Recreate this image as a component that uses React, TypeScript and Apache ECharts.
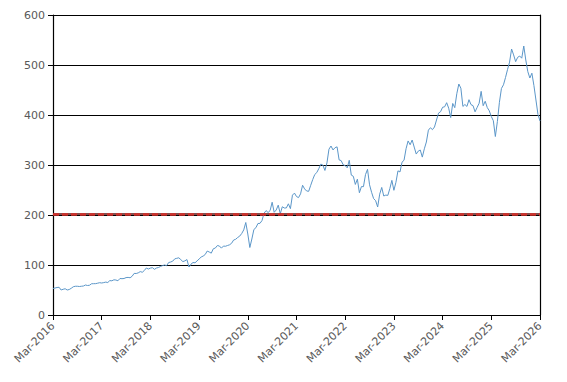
import React, { useEffect, useRef } from "react";
import * as echarts from "echarts";

// Semi-monthly closing prices (1st and 15th of each month)
const prices2016 = [53, 54, 55, 55.5, 50, 51.5, 52.5, 50, 51, 53.5, 56.5, 57.5, 57.5, 57, 57.5, 58, 60, 59, 59.5, 62.5]; // Mar–Dec
const prices2017 = [62.6, 62.7, 63.6, 64.6, 64, 64.8, 65.8, 65, 68.8, 68.4, 70.4, 70, 68.5, 73, 72.6, 73, 74.8, 75.2, 74.5, 77.5, 83.2, 83, 84.3, 86.8];
const prices2018 = [85.5, 89, 94, 92, 93.8, 94.6, 91.3, 94, 95, 97.2, 98.8, 100.1, 98.6, 105, 106, 107.7, 112.3, 113.4, 114.4, 110.7, 106.8, 108.3, 110.9, 96];
const prices2019 = [101.6, 105, 104.4, 108.2, 112, 115.9, 117.9, 121, 127.9, 126, 123.7, 132.5, 133.9, 138.9, 138, 133.7, 137.9, 137.5, 139, 140.4, 143.4, 149.9, 151.4, 155];
const prices2020 = [157.7, 163, 170.2, 185, 162, 135, 152, 171, 174.6, 183, 183.3, 188.9, 203.5, 208.8, 205, 208.9, 225.5, 205.4, 210, 219.7, 202.5, 216.5, 214, 214.1];
const prices2021 = [222.4, 212.7, 239.7, 243.8, 236.9, 234.8, 242.3, 259.5, 252.2, 248, 247.4, 259.4, 270.9, 281, 284.9, 292.8, 301.8, 299.8, 289.1, 304.2, 331.6, 338, 330.1, 334.7];
const prices2022 = [336.3, 310.2, 308.8, 300.5, 298.8, 294.4, 309.4, 279.8, 277.5, 261.1, 271.6, 244.5, 256.8, 256.7, 280.7, 291.3, 260.4, 245.4, 232.9, 228.6, 216, 241.7, 255.1, 238];
const prices2023 = [239.8, 239.2, 252.8, 269.3, 249.4, 265.4, 288.3, 286.1, 305.6, 309.5, 332.6, 348.1, 340.5, 350, 335.9, 321.9, 327.8, 330, 315.8, 332.4, 346, 369.7, 374.5, 370.7];
const prices2024 = [376, 390, 403.8, 406.6, 415.5, 416.4, 424.6, 413.6, 394.9, 423.1, 414.7, 442.6, 462, 453.6, 417.1, 421, 417.1, 430.6, 420.7, 418.7, 406.4, 415, 423.5, 447.3];
const prices2025 = [418.6, 427.5, 415, 408.4, 397, 388.6, 357, 387, 425.4, 453.1, 460.4, 474.9, 491, 505.8, 532, 520.2, 506.7, 515.4, 517.9, 513.6, 538, 510, 486.7, 474];
const prices2026 = [483.6, 459, 430, 401, 388]; // Jan 1 – Mar 1

const allPrices = [
  ...prices2016, ...prices2017, ...prices2018, ...prices2019, ...prices2020,
  ...prices2021, ...prices2022, ...prices2023, ...prices2024, ...prices2025, ...prices2026,
];

const startYear = 2016;
const yTicks = [0, 100, 200, 300, 400, 500, 600];
const thresholdValue = 202;

export default function App() {
  const ref = useRef<HTMLDivElement>(null);
  useEffect(() => {
    if (!ref.current) return;
    const chart = echarts.init(ref.current, undefined, { renderer: "svg" });
    // x = months since Mar-2016
    const data = allPrices.map((v, i) => [i * 0.5, v]);
    chart.setOption({
      animation: false,
      grid: { left: 53, right: 27, top: 15, bottom: 67, containLabel: false },
      xAxis: {
        type: "value",
        min: 0,
        max: 120,
        interval: 12,
        axisLine: { show: true, lineStyle: { color: "#000", width: 1.2 } },
        axisTick: { show: true, inside: false, length: 5, lineStyle: { color: "#000", width: 1 } },
        splitLine: { show: false },
        axisLabel: {
          rotate: 45,
          color: "#595959",
          fontFamily: "DejaVu Sans",
          fontSize: 11,
          margin: 9,
          formatter: (v: number) => `Mar-${startYear + Math.round(v / 12)}`,
        },
      },
      yAxis: [
        {
          type: "value",
          min: yTicks[0],
          max: yTicks[yTicks.length - 1],
          interval: 100,
          axisLine: { show: true, lineStyle: { color: "#000", width: 1.2 } },
          axisTick: { show: true, inside: false, length: 5, lineStyle: { color: "#000" } },
          splitLine: { show: true, lineStyle: { color: "#000", width: 1 } },
          axisLabel: { color: "#595959", fontFamily: "DejaVu Sans", fontSize: 11, margin: 8 },
        },
        {
          type: "value",
          position: "right",
          min: 0,
          max: 600,
          interval: 100,
          axisLine: { show: true, lineStyle: { color: "#000", width: 1.2 } },
          axisTick: { show: false },
          axisLabel: { show: false },
          splitLine: { show: false },
        },
      ],
      series: [
        {
          type: "line",
          data,
          showSymbol: false,
          symbol: "none",
          lineStyle: { color: "#5b96c8", width: 1 },
          z: 3,
          markLine: {
            silent: true,
            symbol: "none",
            label: { show: false },
            data: [
              { yAxis: thresholdValue, lineStyle: { color: "#5e1414", width: 1.5, type: "solid" } },
              { yAxis: thresholdValue, lineStyle: { color: "#d2322d", width: 2.5, type: [6, 3] } },
            ],
          },
        },
      ],
    });
    return () => chart.dispose();
  }, []);
  return <div ref={ref} style={{ width: 567, height: 382, position: "absolute", left: 0, top: 0, background: "#fff" }} />;
}
